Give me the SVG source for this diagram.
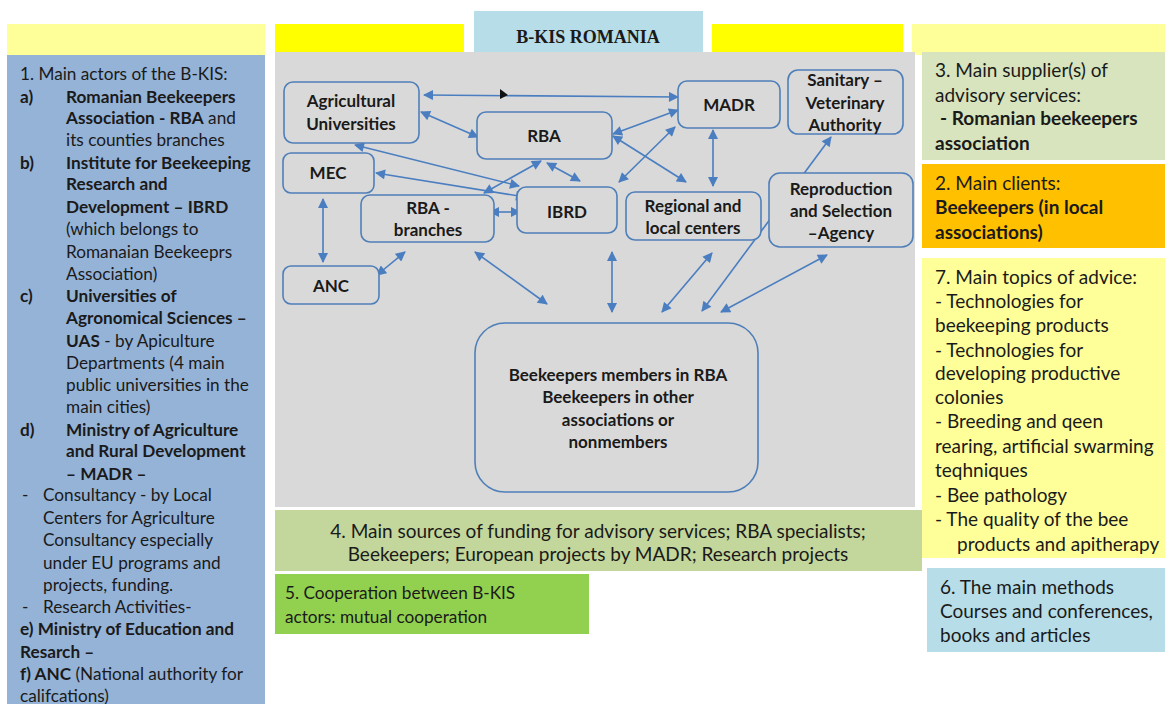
<svg xmlns="http://www.w3.org/2000/svg" width="1165" height="704" viewBox="0 0 1165 704">
<defs>
<style>
.t{font-family:Lato,"Open Sans","Liberation Sans",sans-serif;font-size:17.2px;fill:#1a1a1a}
.r{font-size:19px}
.m{font-size:19px}
.b{font-weight:bold}
.n{font-family:Lato,"Open Sans","Liberation Sans",sans-serif;font-size:17px;font-weight:bold;fill:#1a1a1a;text-anchor:middle}
.nd{fill:#D9D9D9;stroke:#4F7FB8;stroke-width:1.6}
.c{stroke:#4A7EC0;stroke-width:1.6;fill:none;marker-start:url(#ah);marker-end:url(#ah)}
</style>
<marker id="ah" viewBox="0 0 10 10" refX="9" refY="5" markerWidth="11" markerHeight="10" markerUnits="userSpaceOnUse" orient="auto-start-reverse">
<path d="M0,0 L10,5 L0,10 z" fill="#4A7EC0"/>
</marker>
</defs>
<rect width="1165" height="704" fill="#ffffff"/>

<g id="headers">
<rect x="7" y="24" width="258" height="31" fill="#FFFF99"/>
<rect x="275" y="24" width="189" height="28" fill="#FFFF00"/>
<rect x="712" y="24" width="191" height="28" fill="#FFFF00"/>
<rect x="912" y="24" width="253" height="31" fill="#FFFF99"/>
</g>
<g id="title">
<rect x="474" y="11" width="229" height="41" fill="#B7DDE8"/>
<text x="588" y="43" text-anchor="middle" font-family="'Liberation Serif',serif" font-weight="bold" font-size="18" fill="#1a1a1a">B-KIS ROMANIA</text>
</g>

<g id="panel1">
<rect x="7" y="55" width="258" height="649" fill="#95B3D7"/>
<text class="t" x="20" y="80">1. Main actors of the B-KIS:</text>
<text class="t b" x="20" y="103">a)</text><text class="t b" x="66" y="103">Romanian Beekeepers</text>
<text class="t" x="66" y="124"><tspan class="b">Association - RBA</tspan> and</text>
<text class="t" x="66" y="146">its counties branches</text>
<text class="t b" x="20" y="169">b)</text><text class="t b" x="66" y="169">Institute for Beekeeping</text>
<text class="t b" x="66" y="190">Research and</text>
<text class="t b" x="66" y="213">Development – IBRD</text>
<text class="t" x="66" y="235">(which belongs to</text>
<text class="t" x="66" y="258">Romanaian Beekeeprs</text>
<text class="t" x="66" y="280">Association)</text>
<text class="t b" x="20" y="302">c)</text><text class="t b" x="66" y="302">Universities of</text>
<text class="t b" x="66" y="324">Agronomical Sciences –</text>
<text class="t" x="66" y="347"><tspan class="b">UAS</tspan> - by Apiculture</text>
<text class="t" x="66" y="369">Departments (4 main</text>
<text class="t" x="66" y="391">public universities in the</text>
<text class="t" x="66" y="413">main cities)</text>
<text class="t b" x="20" y="436">d)</text><text class="t b" x="66" y="436">Ministry of Agriculture</text>
<text class="t b" x="66" y="457">and Rural  Development</text>
<text class="t b" x="66" y="480">– MADR –</text>
<text class="t" x="22" y="501">-</text><text class="t" x="43" y="501">Consultancy - by Local</text>
<text class="t" x="43" y="524">Centers for Agriculture</text>
<text class="t" x="43" y="546">Consultancy especially</text>
<text class="t" x="43" y="569">under EU programs and</text>
<text class="t" x="43" y="591">projects, funding.</text>
<text class="t" x="22" y="613">-</text><text class="t" x="43" y="613">Research  Activities-</text>
<text class="t b" x="20" y="635">e) Ministry of Education and</text>
<text class="t b" x="20" y="658">Resarch –</text>
<text class="t" x="20" y="680"><tspan class="b">f) ANC</tspan> (National authority for</text>
<text class="t" x="20" y="702">califcations)</text>
</g>

<rect id="area" x="275" y="52" width="640" height="455" fill="#D9D9D9"/>

<g id="connectors">
<line class="c" x1="424" y1="95" x2="678" y2="97"/>
<line class="c" x1="421" y1="112" x2="478" y2="137"/>
<line class="c" x1="355" y1="145" x2="519" y2="186"/>
<line class="c" x1="376" y1="173" x2="525" y2="197"/>
<line class="c" x1="541" y1="161" x2="484" y2="193"/>
<line class="c" x1="547" y1="163" x2="580" y2="181"/>
<line class="c" x1="490" y1="212" x2="520" y2="212"/>
<line class="c" x1="613" y1="134" x2="678" y2="110"/>
<line class="c" x1="613" y1="136" x2="686" y2="182"/>
<line class="c" x1="675" y1="127" x2="619" y2="182"/>
<line class="c" x1="713" y1="130" x2="713" y2="186"/>
<line class="c" x1="323" y1="199" x2="323" y2="262"/>
<line class="c" x1="377" y1="275" x2="405" y2="252"/>
<line class="c" x1="475" y1="252" x2="547" y2="304"/>
<line class="c" x1="612" y1="252" x2="612" y2="312"/>
<line class="c" x1="712" y1="253" x2="662" y2="312"/>
<line class="c" x1="831" y1="137" x2="702" y2="311"/>
<line class="c" x1="827" y1="255" x2="721" y2="312"/>
</g>
<path d="M500,89 L508,95 L500,99 z" fill="#111"/>

<g id="n-agri"><rect class="nd" x="284" y="82" width="135" height="61" rx="9"/><text class="n" x="351" y="107">Agricultural</text><text class="n" x="351" y="130">Universities</text></g>
<g id="n-rba"><rect class="nd" x="477" y="112" width="135" height="47" rx="9"/><text class="n" x="544" y="142">RBA</text></g>
<g id="n-mec"><rect class="nd" x="283" y="153" width="91" height="40" rx="8"/><text class="n" x="328" y="179">MEC</text></g>
<g id="n-rbab"><rect class="nd" x="361" y="195" width="133" height="47" rx="9"/><text class="n" x="428" y="214">RBA -</text><text class="n" x="428" y="236">branches</text></g>
<g id="n-ibrd"><rect class="nd" x="517" y="187" width="100" height="46" rx="9"/><text class="n" x="567" y="218">IBRD</text></g>
<g id="n-anc"><rect class="nd" x="283" y="266" width="96" height="38" rx="8"/><text class="n" x="331" y="292">ANC</text></g>
<g id="n-madr"><rect class="nd" x="678" y="81" width="102" height="47" rx="9"/><text class="n" x="729" y="111">MADR</text></g>
<g id="n-san"><rect class="nd" x="788" y="70" width="115" height="64" rx="10"/><text class="n" x="845" y="86">Sanitary –</text><text class="n" x="845" y="109">Veterinary</text><text class="n" x="845" y="131">Authority</text></g>
<g id="n-reg"><rect class="nd" x="626" y="192" width="135" height="48" rx="9"/><text class="n" x="693" y="212">Regional and</text><text class="n" x="693" y="234">local centers</text></g>
<g id="n-rep"><rect class="nd" x="769" y="173" width="144" height="74" rx="11"/><text class="n" x="841" y="195">Reproduction</text><text class="n" x="841" y="217">and Selection</text><text class="n" x="841" y="239">–Agency</text></g>
<g id="n-bee"><rect class="nd" x="475" y="323" width="283" height="169" rx="30"/><text class="n" x="618" y="381" font-size="15.8">Beekeepers members in RBA</text><text class="n" x="618" y="403" font-size="15.8">Beekeepers in other</text><text class="n" x="618" y="426" font-size="15.8">associations or</text><text class="n" x="618" y="448" font-size="15.8">nonmembers</text></g>

<g id="box4">
<rect x="275" y="510" width="647" height="61" fill="#C3D69B"/>
<text class="t m" x="598" y="538" text-anchor="middle">4. Main sources of funding for  advisory services; RBA specialists;</text>
<text class="t m" x="598" y="561" text-anchor="middle">Beekeepers; European projects by MADR; Research projects</text>
</g>
<g id="box5">
<rect x="275" y="574" width="314" height="60" fill="#92D050"/>
<text class="t" x="285" y="599" font-size="18.3">5. Cooperation between B-KIS</text>
<text class="t" x="285" y="623" font-size="18.3">actors: mutual cooperation</text>
</g>

<g id="box3">
<rect x="922" y="52" width="243" height="108" fill="#D7E4BD"/>
<text class="t r" x="935" y="77">3. Main supplier(s) of</text>
<text class="t r" x="935" y="102">advisory services:</text>
<text class="t r b" x="940" y="125">- Romanian beekeepers</text>
<text class="t r b" x="935" y="150">association</text>
</g>
<g id="box2">
<rect x="922" y="164" width="243" height="84" fill="#FFC000"/>
<text class="t r" x="935" y="190">2. Main clients:</text>
<text class="t r b" x="935" y="214">Beekeepers (in local</text>
<text class="t r b" x="935" y="239">associations)</text>
</g>
<g id="box7">
<rect x="922" y="258" width="243" height="300" fill="#FFFF99"/>
<text class="t r" x="935" y="284">7. Main topics of advice:</text>
<text class="t r" x="935" y="308">- Technologies for</text>
<text class="t r" x="935" y="332">beekeeping products</text>
<text class="t r" x="935" y="357">- Technologies for</text>
<text class="t r" x="935" y="380">developing productive</text>
<text class="t r" x="935" y="404">colonies</text>
<text class="t r" x="935" y="428">- Breeding and qeen</text>
<text class="t r" x="935" y="453">rearing, artificial swarming</text>
<text class="t r" x="935" y="477">teqhniques</text>
<text class="t r" x="935" y="502">- Bee pathology</text>
<text class="t r" x="935" y="526">- The quality of the bee</text>
<text class="t r" x="957" y="551">products and apitherapy</text>
</g>
<g id="box6">
<rect x="927" y="568" width="238" height="84" fill="#B7DDE8"/>
<text class="t r" x="940" y="594">6. The main methods</text>
<text class="t r" x="940" y="618">Courses and conferences,</text>
<text class="t r" x="940" y="642">books and articles</text>
</g>
</svg>
